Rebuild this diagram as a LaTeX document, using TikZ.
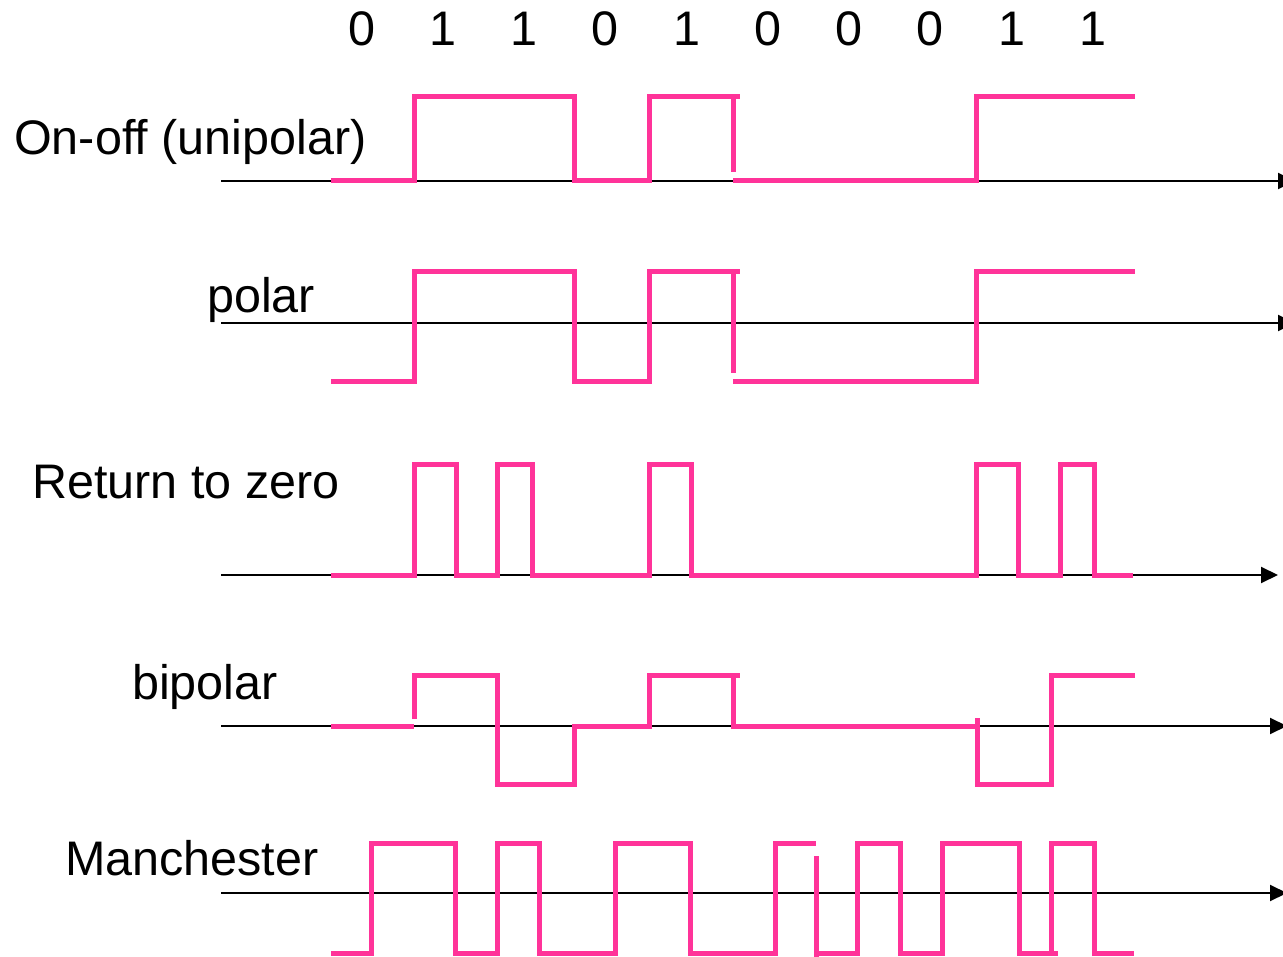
\documentclass[tikz,border=0pt]{standalone}
\usepackage{fontspec}
\setmainfont{Liberation Sans}
\usetikzlibrary{arrows.meta}
\definecolor{wave}{RGB}{255,51,153}
\begin{document}
\begin{tikzpicture}[x=1pt,y=-1pt,
  axis/.style={line width=2pt,black,-{Triangle[length=17pt,width=16pt]}},
  sig/.style={line width=5pt,wave,line join=miter},
  lbl/.style={inner sep=0pt,anchor=base west,font=\fontsize{48.5}{58}\selectfont},
  bitlbl/.style={inner sep=0pt,anchor=base,font=\fontsize{48.5}{58}\selectfont}]
\useasboundingbox (0,0) rectangle (1283,957);

% bit sequence
\foreach \x/\b [count=\i] in {362/0,443/1,524/1,605/0,687/1,768/0,849/0,930/0,1012/1,1093/1}
  \node[bitlbl] (bit\i) at (\x,46) {\b};

% row labels
\node[lbl] (lonoff) at (14,155) {On-off (unipolar)};
\node[lbl] (lpolar) at (207,313) {polar};
\node[lbl] (lrz) at (32,498) {Return to zero};
\node[lbl] (lbip) at (132,699) {bipolar};
\node[lbl] (lman) at (65,875) {Manchester};

% time axes
\coordinate (a1s) at (221,181); \coordinate (a1e) at (1295,181);
\coordinate (a2s) at (221,323); \coordinate (a2e) at (1295,323);
\coordinate (a3s) at (221,575); \coordinate (a3e) at (1278,575);
\coordinate (a4s) at (221,726); \coordinate (a4e) at (1287,726);
\coordinate (a5s) at (221,893); \coordinate (a5e) at (1287,893);
\foreach \k in {1,...,5} \draw[axis] (a\k s) -- (a\k e);

% on-off (unipolar)
\draw[sig] (331,181) -- (414,181) -- (414,97) -- (574,97) -- (574,181) -- (649,181) -- (649,97) -- (740,97);
\draw[sig] (733,97) -- (733,172);
\draw[sig] (733,181) -- (976,181) -- (976,97) -- (1135,97);

% polar
\draw[sig] (331,382) -- (414,382) -- (414,272) -- (574,272) -- (574,382) -- (649,382) -- (649,272) -- (740,272);
\draw[sig] (733,272) -- (733,373);
\draw[sig] (733,382) -- (976,382) -- (976,272) -- (1135,272);

% return to zero
\draw[sig] (331,575) -- (414,575) -- (414,465) -- (456,465) -- (456,575) -- (497,575) -- (497,465) -- (535,465);
\draw[sig] (532,465) -- (532,575) -- (649,575) -- (649,465) -- (691,465) -- (691,575) -- (976,575) -- (976,465) -- (1018,465) -- (1018,575) -- (1060,575) -- (1060,465) -- (1097,465);
\draw[sig] (1094,465) -- (1094,575) -- (1133,575);

% bipolar
\draw[sig] (331,726) -- (414,726);
\draw[sig] (414,719) -- (414,675) -- (497,675) -- (497,784) -- (574,784) -- (574,726) -- (649,726) -- (649,675) -- (740,675);
\draw[sig] (733,675) -- (733,726) -- (977,726);
\draw[sig] (977,718) -- (977,784) -- (1051,784) -- (1051,675) -- (1135,675);

% manchester
\draw[sig] (331,953) -- (371,953) -- (371,843) -- (455,843) -- (455,953) -- (497,953) -- (497,843) -- (539,843) -- (539,953) -- (615,953) -- (615,843) -- (690,843) -- (690,953) -- (775,953) -- (775,843) -- (816,843);
\draw[sig] (816,856) -- (816,958);
\draw[sig] (816,953) -- (857,953) -- (857,843) -- (900,843) -- (900,953) -- (942,953) -- (942,843) -- (1019,843) -- (1019,953) -- (1058,953);
\draw[sig] (1051,953) -- (1051,843) -- (1094,843) -- (1094,953) -- (1134,953);
\end{tikzpicture}
\end{document}
